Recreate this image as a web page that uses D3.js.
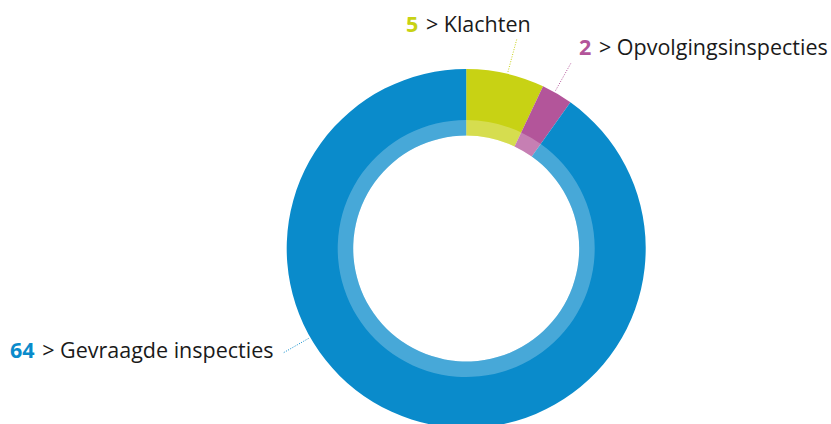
<!DOCTYPE html>
<html><head><meta charset="utf-8">
<script src="https://cdn.jsdelivr.net/npm/d3@7"></script>
<style>html,body{margin:0;padding:0;background:#fff;}svg{display:block;}</style>
</head><body>
<svg id="chart" width="831" height="424"></svg>
<script>
const categories = ["Klachten", "Opvolgingsinspecties", "Gevraagde inspecties"];
const values = [5, 2, 64];
const colors = ["#c8d214", "#b3559a", "#0a8bcb"];

// layout (not data)
const cx = 466.2, cy = 248.5, rOuter = 179.5, rBand = 128.5, rInner = 113;
const labelLayout = [
  {x: 406, y: 32, lineEnd: [516.7, 39.5], angleDeg: 13.3},
  {x: 579, y: 55, lineEnd: [571, 63], angleDeg: 29.5},
  {x: 10, y: 357.5, lineEnd: [282.5, 353.3], angleDeg: 240.3}
];

const svg = d3.select("#chart");
const g = svg.append("g").attr("transform", `translate(${cx},${cy})`);
const pie = d3.pie().sort(null).value(d => d)(values);
const arcMain = d3.arc().innerRadius(rInner).outerRadius(rOuter);
const arcBand = d3.arc().innerRadius(rInner).outerRadius(rBand);

g.selectAll("path.main").data(pie).enter().append("path")
  .attr("class", "main").attr("d", arcMain).attr("fill", (d, i) => colors[i]);
g.selectAll("path.band").data(pie).enter().append("path")
  .attr("class", "band").attr("d", arcBand).attr("fill", "#fff").attr("fill-opacity", 0.25);

// leader lines
labelLayout.forEach((L, i) => {
  const a = L.angleDeg * Math.PI / 180;
  const r0 = rOuter + 2;
  const x0 = cx + r0 * Math.sin(a), y0 = cy - r0 * Math.cos(a);
  svg.append("line").attr("x1", x0).attr("y1", y0).attr("x2", L.lineEnd[0]).attr("y2", L.lineEnd[1])
    .attr("stroke", colors[i]).attr("stroke-width", 1).attr("stroke-dasharray", "1,1.5");
});

// labels
labelLayout.forEach((L, i) => {
  const t = svg.append("text").attr("x", L.x).attr("y", L.y)
    .attr("font-family", "'Open Sans', sans-serif").attr("font-size", 21.5).attr("fill", "#1a1a1a");
  t.append("tspan").attr("font-weight", 700).attr("fill", colors[i]).text(values[i]);
  t.append("tspan").attr("dx", 2).text(" > " + categories[i]);
});
</script>
</body></html>
